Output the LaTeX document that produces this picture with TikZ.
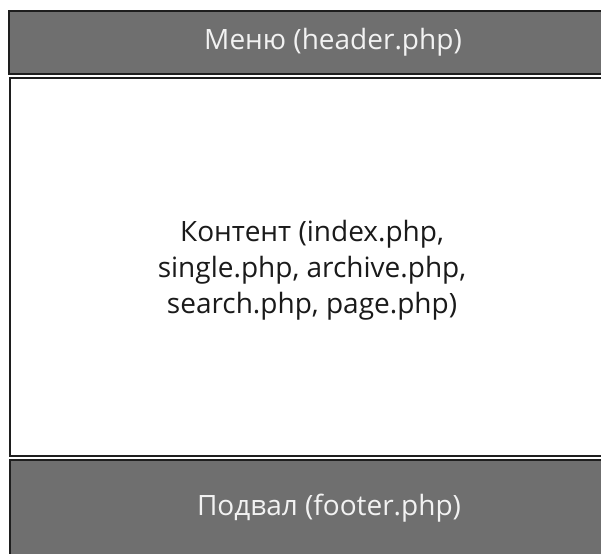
\documentclass[tikz,border=0pt]{standalone}
\usepackage{fontspec}
\setmainfont{Open Sans}
\definecolor{barfill}{HTML}{6F6F6F}
\definecolor{edge}{HTML}{1E1E1E}
\definecolor{bartext}{HTML}{F2F2F2}
\definecolor{bodytext}{HTML}{1A1A1A}
\begin{document}
\begin{tikzpicture}[x=1pt,y=-1pt,
  panel/.style={draw=edge,line width=2pt},
  bar/.style={panel,fill=barfill},
  bartitle/.style={text=bartext,font=\fontsize{28}{34}\selectfont},
  bodytitle/.style={text=bodytext,align=center,font=\fontsize{28}{36}\selectfont}]
\useasboundingbox (0,0) rectangle (601,553);
\begin{scope}
\clip (0,0) rectangle (601,553);
% header bar, content area, footer bar
\draw[bar] (9,11) rectangle (660,74);
\draw[panel,fill=white] (10,78) rectangle (660,456);
\draw[bar] (10,460) rectangle (660,560);
\end{scope}
\node[bartitle] (menu) at (333,42.5) {Меню (header.php)};
\node[bodytitle] (content) at (312,270) {Контент (index.php,\\single.php, archive.php,\\search.php, page.php)};
\node[bartitle] (footer) at (329,508) {Подвал (footer.php)};
\end{tikzpicture}
\end{document}
